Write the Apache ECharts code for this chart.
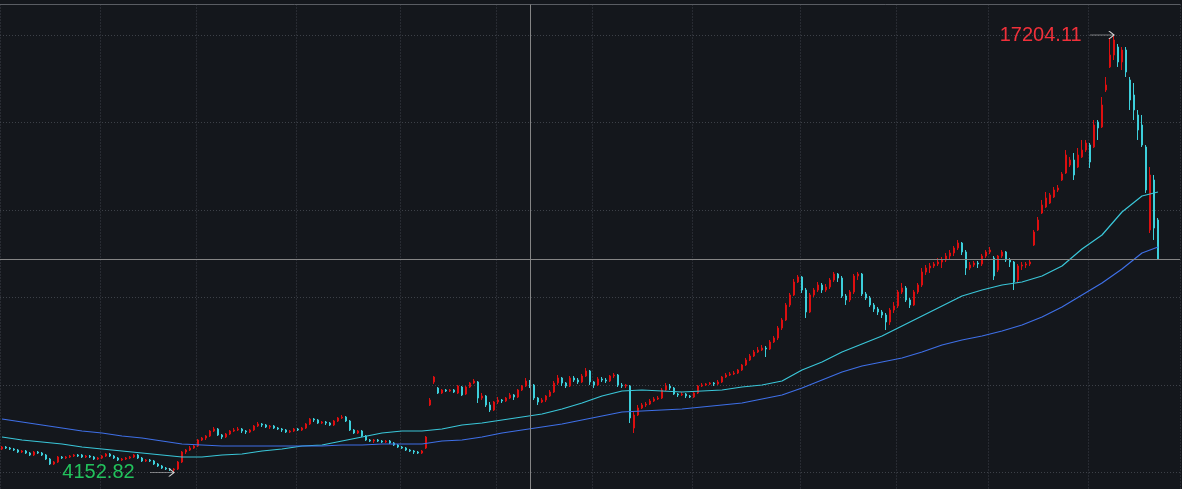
<!DOCTYPE html>
<html>
<head>
<meta charset="utf-8">
<title>K线</title>
<script src="https://cdn.jsdelivr.net/npm/echarts@6/dist/echarts.min.js"></script>
<style>
  html, body { margin: 0; padding: 0; background: #14171c; }
  #chart { width: 1182px; height: 489px; }
</style>
</head>
<body>
<div id="chart"></div>
<script>
// 行情数据（开、收、低、高），按K线顺序
const opens = [
  4854, 4913, 4883, 4854, 4824, 4764, 4794, 4734, 4675, 4764,
  4734, 4675, 4555, 4406, 4466, 4615, 4585, 4615, 4645, 4675,
  4675, 4615, 4645, 4615, 4555, 4585, 4645, 4704, 4645, 4585,
  4526, 4555, 4585, 4615, 4675, 4585, 4496, 4526, 4496, 4406,
  4347, 4287, 4257, 4227, 4257, 4466, 4764, 4824, 4883, 4943,
  5122, 5182, 5242, 5391, 5450, 5271, 5212, 5301, 5391, 5421,
  5450, 5391, 5361, 5421, 5540, 5600, 5570, 5510, 5540, 5480,
  5450, 5421, 5361, 5391, 5450, 5421, 5480, 5600, 5749, 5719,
  5629, 5659, 5629, 5570, 5689, 5779, 5808, 5689, 5421, 5331,
  5391, 5242, 5122, 5092, 5122, 5092, 5062, 5092, 5033, 4973,
  4913, 4883, 4824, 4794, 4764, 4734, 4883, 6166, 6853, 6673,
  6524, 6614, 6584, 6614, 6524, 6703, 6494, 6703, 6823, 6853,
  6375, 6435, 6166, 6017, 6256, 6316, 6286, 6375, 6465, 6405,
  6614, 6733, 6882, 6763, 6375, 6256, 6316, 6435, 6554, 6823,
  6972, 6823, 6733, 6972, 6912, 6853, 7032, 7181, 6853, 6763,
  6942, 6912, 6882, 7032, 7061, 6763, 6733, 6733, 5480, 5868,
  6077, 6166, 6196, 6286, 6345, 6375, 6614, 6733, 6673, 6494,
  6465, 6494, 6435, 6405, 6524, 6733, 6763, 6793, 6823, 6793,
  6853, 7002, 7061, 7091, 7121, 7211, 7360, 7509, 7628, 7747,
  7807, 7867, 7837, 8046, 8165, 8463, 8702, 9150, 9448, 9836,
  9985, 9597, 8941, 9448, 9597, 9746, 9597, 9687, 9895, 10074,
  9955, 9418, 9299, 9538, 10015, 10074, 9478, 9359, 9150, 9030,
  8941, 8851, 8642, 9000, 9120, 9538, 9657, 9299, 9150, 9538,
  9746, 10134, 10253, 10313, 10373, 10432, 10492, 10611, 10701, 10850,
  10999, 10731, 10253, 10343, 10403, 10373, 10611, 10731, 10552, 10194,
  10611, 10731, 10492, 10432, 9895, 10313, 10343, 10373, 10939, 11387,
  11894, 12073, 12192, 12371, 12580, 12879, 13087, 13326, 13475, 13266,
  13565, 13773, 13923, 13863, 14609, 14460, 15563, 16250, 16607, 16846,
  16399, 16757, 15862, 15414, 14818, 14519, 13863, 11387, 12879, 11685
]
const closes = [
  4913, 4883, 4854, 4824, 4764, 4794, 4734, 4675, 4764, 4734,
  4675, 4555, 4406, 4466, 4615, 4585, 4615, 4645, 4675, 4645,
  4615, 4645, 4615, 4555, 4585, 4645, 4704, 4645, 4585, 4526,
  4555, 4585, 4615, 4675, 4585, 4496, 4526, 4496, 4406, 4347,
  4287, 4257, 4227, 4257, 4466, 4764, 4824, 4883, 4943, 5122,
  5182, 5242, 5391, 5450, 5271, 5212, 5301, 5391, 5421, 5450,
  5391, 5361, 5421, 5540, 5600, 5570, 5510, 5540, 5480, 5450,
  5421, 5361, 5391, 5450, 5421, 5480, 5600, 5749, 5719, 5629,
  5659, 5629, 5570, 5689, 5779, 5808, 5689, 5421, 5331, 5391,
  5242, 5122, 5092, 5122, 5092, 5062, 5092, 5033, 4973, 4913,
  4883, 4824, 4794, 4764, 4734, 4794, 5212, 6316, 7002, 6524,
  6614, 6584, 6614, 6554, 6733, 6465, 6703, 6823, 6882, 6375,
  6435, 6166, 6017, 6256, 6316, 6286, 6375, 6465, 6405, 6614,
  6733, 6882, 6763, 6375, 6256, 6316, 6435, 6554, 6823, 6972,
  6823, 6733, 6972, 6912, 6853, 7032, 7181, 6853, 6763, 6942,
  6912, 6882, 7032, 7061, 6763, 6733, 6763, 5779, 5868, 6077,
  6166, 6196, 6286, 6345, 6375, 6614, 6733, 6673, 6494, 6465,
  6494, 6435, 6405, 6524, 6733, 6763, 6793, 6823, 6793, 6853,
  7002, 7061, 7091, 7121, 7211, 7360, 7509, 7628, 7747, 7807,
  7867, 7837, 8046, 8165, 8463, 8702, 9150, 9448, 9836, 9985,
  9597, 8941, 9448, 9597, 9746, 9597, 9687, 9895, 10074, 9955,
  9418, 9299, 9538, 10015, 10074, 9478, 9359, 9150, 9030, 8941,
  8851, 8642, 9000, 9120, 9538, 9657, 9299, 9150, 9538, 9746,
  10134, 10253, 10313, 10373, 10432, 10492, 10611, 10701, 10850, 10999,
  10731, 10253, 10343, 10403, 10373, 10611, 10731, 10790, 10015, 10611,
  10731, 10492, 10432, 9836, 10313, 10343, 10373, 10432, 11327, 11685,
  12133, 12341, 12431, 12580, 12640, 13058, 13624, 13475, 13028, 13624,
  13773, 13982, 13415, 14519, 14430, 15116, 15713, 16607, 17055, 16399,
  16757, 16100, 15265, 14967, 14370, 13923, 12580, 13028, 11446, 10522
]
const lows = [
  4824, 4854, 4824, 4794, 4734, 4734, 4704, 4645, 4645, 4704,
  4645, 4526, 4377, 4377, 4436, 4555, 4555, 4585, 4615, 4615,
  4585, 4585, 4585, 4526, 4526, 4555, 4615, 4615, 4555, 4496,
  4496, 4526, 4555, 4585, 4555, 4466, 4466, 4466, 4377, 4317,
  4257, 4227, 4197, 4152.82, 4227, 4436, 4704, 4794, 4854, 4913,
  5092, 5122, 5212, 5361, 5242, 5152, 5182, 5271, 5361, 5391,
  5331, 5301, 5331, 5391, 5510, 5510, 5480, 5450, 5450, 5421,
  5361, 5331, 5331, 5361, 5391, 5391, 5450, 5570, 5659, 5600,
  5600, 5570, 5540, 5540, 5659, 5749, 5659, 5391, 5301, 5301,
  5212, 5092, 5062, 5033, 5062, 5033, 5033, 5003, 4943, 4883,
  4854, 4794, 4764, 4704, 4704, 4704, 4854, 6137, 6793, 6494,
  6494, 6554, 6554, 6524, 6494, 6435, 6465, 6673, 6793, 6226,
  6316, 6107, 5958, 5987, 6196, 6226, 6256, 6345, 6316, 6375,
  6584, 6703, 6673, 6316, 6166, 6226, 6256, 6405, 6524, 6763,
  6733, 6673, 6703, 6853, 6793, 6823, 7002, 6763, 6673, 6733,
  6853, 6823, 6853, 6972, 6703, 6673, 6673, 5629, 5331, 5838,
  6047, 6107, 6166, 6256, 6316, 6345, 6584, 6614, 6465, 6405,
  6435, 6375, 6375, 6375, 6494, 6703, 6733, 6763, 6733, 6763,
  6823, 6972, 7032, 7061, 7091, 7181, 7330, 7479, 7598, 7718,
  7777, 7598, 7807, 8016, 8105, 8404, 8672, 9090, 9418, 9806,
  9508, 8762, 8911, 9388, 9538, 9508, 9538, 9627, 9836, 9836,
  9359, 9150, 9239, 9478, 9895, 9418, 9299, 9090, 8941, 8851,
  8762, 8404, 8553, 8911, 9060, 9478, 9239, 9060, 9120, 9478,
  9687, 10045, 10104, 10253, 10313, 10253, 10432, 10492, 10611, 10790,
  10641, 10045, 10194, 10283, 10253, 10313, 10552, 10671, 9895, 10134,
  10552, 10432, 10283, 9597, 9806, 10194, 10253, 10313, 10910, 11357,
  11864, 12043, 12162, 12341, 12521, 12849, 13058, 13266, 12879, 13236,
  13535, 13714, 13236, 13833, 14072, 14430, 15504, 16220, 16458, 16250,
  16160, 15951, 14967, 14668, 14072, 13863, 12491, 11297, 11089, 10507
]
const highs = [
  4943, 4943, 4913, 4883, 4854, 4824, 4824, 4764, 4794, 4794,
  4764, 4704, 4585, 4496, 4645, 4645, 4645, 4675, 4704, 4704,
  4704, 4675, 4675, 4645, 4615, 4675, 4734, 4734, 4675, 4615,
  4585, 4615, 4645, 4704, 4704, 4615, 4555, 4555, 4526, 4436,
  4377, 4317, 4287, 4287, 4496, 4794, 4854, 4943, 4973, 5152,
  5212, 5271, 5421, 5510, 5480, 5301, 5331, 5421, 5480, 5510,
  5480, 5421, 5450, 5570, 5659, 5629, 5600, 5570, 5570, 5510,
  5480, 5450, 5421, 5480, 5480, 5510, 5629, 5779, 5779, 5749,
  5689, 5689, 5659, 5719, 5808, 5868, 5838, 5719, 5450, 5421,
  5421, 5271, 5152, 5152, 5152, 5122, 5122, 5122, 5062, 5003,
  4943, 4913, 4854, 4824, 4794, 4824, 5242, 6375, 7032, 6703,
  6644, 6644, 6644, 6644, 6763, 6733, 6733, 6853, 6942, 6882,
  6524, 6465, 6256, 6286, 6405, 6345, 6405, 6524, 6494, 6644,
  6763, 6972, 6912, 6793, 6405, 6375, 6465, 6614, 6882, 7061,
  7002, 6853, 7032, 7032, 6972, 7091, 7270, 7211, 6882, 7002,
  7002, 6972, 7061, 7121, 7091, 6823, 6793, 6763, 5958, 6166,
  6226, 6256, 6345, 6405, 6435, 6673, 6823, 6793, 6703, 6524,
  6554, 6524, 6465, 6554, 6763, 6823, 6823, 6853, 6853, 6912,
  7032, 7121, 7151, 7181, 7240, 7390, 7569, 7688, 7807, 7897,
  7956, 7926, 8105, 8225, 8523, 8762, 9209, 9508, 9925, 10045,
  10015, 9657, 9508, 9657, 9836, 9806, 9776, 9955, 10134, 10104,
  10015, 9478, 9597, 10074, 10134, 10104, 9538, 9418, 9209, 9090,
  9000, 8911, 9060, 9239, 9597, 9806, 9716, 9359, 9597, 9806,
  10253, 10343, 10403, 10432, 10552, 10581, 10701, 10790, 10910, 11089,
  11029, 10790, 10432, 10462, 10462, 10671, 10790, 10880, 10611, 10641,
  10790, 10760, 10552, 10462, 10373, 10432, 10432, 10492, 11387, 11775,
  12282, 12521, 12491, 12670, 12729, 13117, 13773, 13565, 13684, 13833,
  14072, 14072, 13982, 14668, 14668, 15355, 15951, 17115, 17204.11, 16936,
  16846, 16846, 15951, 15772, 14967, 14818, 13923, 13266, 13028, 11745
]

// 均线取样点（K线序号）及对应数值
const maIdx = [
  0, 5, 10, 15, 20, 25, 30, 35, 40, 45,
  50, 55, 60, 65, 70, 75, 80, 85, 90, 95,
  100, 105, 110, 115, 120, 125, 130, 135, 140, 145,
  150, 155, 160, 165, 170, 175, 180, 185, 190, 195,
  200, 205, 210, 215, 220, 225, 230, 235, 240, 245,
  250, 255, 260, 265, 270, 275, 280, 285, 289
]
const maFast = [
  5212, 5122, 5062, 5003, 4913, 4854, 4794, 4734, 4675, 4615,
  4615, 4675, 4704, 4794, 4854, 4943, 4973, 5092, 5212, 5331,
  5391, 5391, 5450, 5570, 5629, 5719, 5808, 5898, 6047, 6226,
  6435, 6584, 6614, 6584, 6554, 6584, 6614, 6703, 6763, 6882,
  7211, 7449, 7747, 7986, 8225, 8523, 8821, 9120, 9418, 9597,
  9746, 9836, 10015, 10313, 10820, 11238, 11924, 12401, 12521
]
const maSlow = [
  5749, 5659, 5570, 5480, 5391, 5331, 5242, 5182, 5092, 5003,
  4973, 4943, 4943, 4943, 4943, 4943, 4943, 4973, 4973, 5003,
  5003, 5003, 5092, 5122, 5212, 5331, 5421, 5510, 5600, 5719,
  5838, 5958, 5987, 6017, 6047, 6107, 6166, 6226, 6345, 6465,
  6673, 6912, 7151, 7330, 7449, 7569, 7747, 7956, 8105, 8225,
  8374, 8553, 8791, 9090, 9448, 9806, 10224, 10701, 10880
]

// 纵向网格所在的K线序号，十字光标所在序号
const vGridIdx = [0, 25, 49, 74, 100, 124, 148, 173, 200, 224, 247, 272]
const cursorIdx = 132
const emptySlots = 5

const labels = []
for (let i = 0; i < opens.length + emptySlots; i++) labels.push(String(i))

const kData = opens.map((o, i) => [o, closes[i], lows[i], highs[i]])
const fastLine = maIdx.map((x, i) => [x, maFast[i]])
const slowLine = maIdx.map((x, i) => [x, maSlow[i]])

const priceMin = Math.min(...lows)
const priceMax = Math.max(...highs)
const lastClose = closes[closes.length - 1]

const arrowPath = 'path://M0,4L24,4M19,0L24,4L19,8'
const gridColor = '#3d4148'

const chart = echarts.init(document.getElementById('chart'))

chart.setOption({
  backgroundColor: '#14171c',
  animation: false,
  axisPointer: { triggerOn: 'none' },
  grid: [
    { left: 0, right: 2, top: 35, bottom: 16.5 },
    { left: 0, right: 2, top: 4.5, bottom: 0 }
  ],
  xAxis: [
    {
      type: 'category',
      gridIndex: 0,
      data: labels,
      show: false
    },
    {
      type: 'category',
      gridIndex: 1,
      data: labels,
      position: 'top',
      axisLine: { show: true, onZero: false, lineStyle: { color: '#5a5d63', width: 1 } },
      axisTick: { show: false },
      axisLabel: { show: false },
      splitLine: {
        show: true,
        interval: (idx) => vGridIdx.includes(idx),
        lineStyle: { color: gridColor, type: [1, 2], width: 1 }
      },
      axisPointer: {
        show: true,
        value: cursorIdx,
        status: 'show',
        type: 'line',
        triggerTooltip: false,
        lineStyle: { color: '#858585', width: 1, type: 'solid' },
        label: { show: false }
      }
    }
  ],
  yAxis: [
    {
      type: 'value',
      gridIndex: 0,
      min: priceMin,
      max: priceMax,
      interval: (priceMax - priceMin) / 5,
      axisLine: { show: false },
      axisTick: { show: false },
      axisLabel: { show: false },
      splitLine: { show: true, lineStyle: { color: gridColor, type: [1, 2], width: 1 } }
    },
    {
      type: 'value',
      gridIndex: 1,
      min: 0,
      max: 1,
      show: false
    }
  ],
  series: [
    {
      name: 'K线',
      type: 'candlestick',
      xAxisIndex: 0,
      yAxisIndex: 0,
      data: kData,
      barWidth: 2,
      clip: false,
      itemStyle: {
        color: '#dd0f10',
        color0: '#3dcfdb',
        borderColor: '#dd0f10',
        borderColor0: '#3dcfdb',
        borderWidth: 1
      },
      markPoint: {
        symbol: arrowPath,
        symbolSize: [24, 8],
        symbolKeepAspect: false,
        symbolOffset: [-12, 0],
        itemStyle: { color: 'none', borderColor: '#d6d6d6', borderWidth: 1 },
        label: {
          show: true,
          position: 'left',
          fontFamily: 'Liberation Sans, Arial, sans-serif',
          fontSize: 20,
          formatter: (p) => p.value.toFixed(2)
        },
        data: [
          {
            type: 'max',
            valueDim: 'highest',
            label: { color: '#f0303a', distance: 4 }
          },
          {
            type: 'min',
            valueDim: 'lowest',
            label: { color: '#22c25c', distance: 11 }
          }
        ]
      },
      markLine: {
        silent: true,
        symbol: 'none',
        label: { show: false },
        lineStyle: { color: '#858585', width: 1, type: 'solid' },
        data: [{ yAxis: lastClose }]
      }
    },
    {
      name: 'MA短',
      type: 'line',
      xAxisIndex: 0,
      yAxisIndex: 0,
      data: fastLine,
      symbol: 'none',
      lineStyle: { color: '#3ac6d8', width: 1.2 }
    },
    {
      name: 'MA长',
      type: 'line',
      xAxisIndex: 0,
      yAxisIndex: 0,
      data: slowLine,
      symbol: 'none',
      lineStyle: { color: '#3e6fe6', width: 1.2 }
    }
  ]
})

window.addEventListener('resize', () => {
  chart.resize()
})
</script>
</body>
</html>
